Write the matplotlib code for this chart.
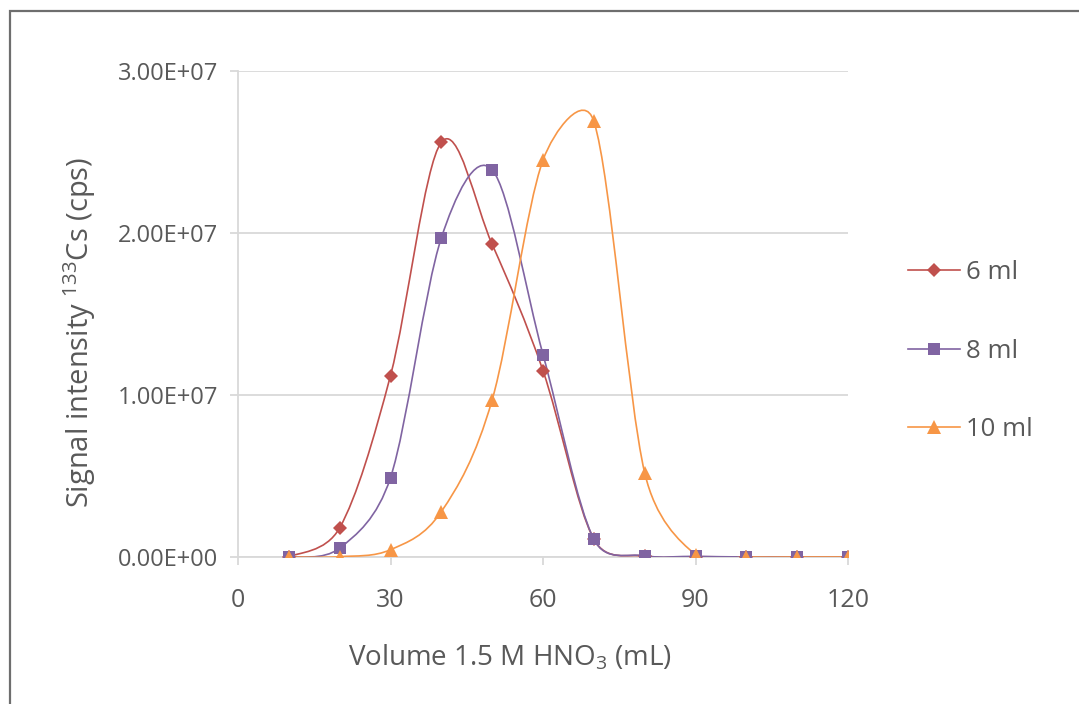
import numpy as np
import matplotlib
matplotlib.use('Agg')
import matplotlib.pyplot as plt
from matplotlib.path import Path
from matplotlib.patches import PathPatch, Rectangle
from matplotlib.lines import Line2D
from matplotlib.ticker import FuncFormatter

plt.rcParams['font.family'] = ['Open Sans', 'DejaVu Sans']
plt.rcParams['mathtext.fontset'] = 'custom'
plt.rcParams['mathtext.rm'] = 'Open Sans'
plt.rcParams['mathtext.default'] = 'regular'

# data
volume = [10, 20, 30, 40, 50, 60, 70, 80, 90, 100, 110, 120]
cs_6ml = [0.0, 1.8e6, 1.12e7, 2.56e7, 1.93e7, 1.15e7, 1.1e6, 0.05e6, 0.02e6, 0.0, 0.0, 0.0]
cs_8ml = [0.0, 0.55e6, 4.9e6, 1.97e7, 2.39e7, 1.25e7, 1.1e6, 0.08e6, 0.04e6, 0.0, 0.0, 0.0]
cs_10ml = [0.0, 0.02e6, 0.45e6, 2.8e6, 9.7e6, 2.45e7, 2.69e7, 5.2e6, 0.15e6, 0.0, 0.0, 0.0]

series = [('6 ml', cs_6ml, '#C0504D', 'D', 7.5),
          ('8 ml', cs_8ml, '#8064A2', 's', 8.5),
          ('10 ml', cs_10ml, '#F79646', '^', 9.5)]

TXT = '#595959'
GRID = '#D9D9D9'


def smooth_path(ax, x, y):
    # excel style smoothed line, worked out in pixel space then mapped back
    pts = ax.transData.transform(np.column_stack([x, y]))
    p = np.vstack([pts[:1], pts, pts[-1:]])
    verts = [pts[0]]
    codes = [Path.MOVETO]
    for i in range(1, len(p) - 2):
        p0, p1, p2, p3 = p[i - 1], p[i], p[i + 1], p[i + 2]
        d12 = np.hypot(*(p2 - p1))
        d02 = np.hypot(*(p2 - p0))
        d13 = np.hypot(*(p3 - p1))
        if d02 / 6 < d12 / 2 or d02 == 0:
            b1 = p1 + (p2 - p0) / 6
        else:
            b1 = p1 + (p2 - p0) * (d12 / 2) / d02
        if d13 / 6 < d12 / 2 or d13 == 0:
            b2 = p2 - (p3 - p1) / 6
        else:
            b2 = p2 - (p3 - p1) * (d12 / 2) / d13
        verts += [b1, b2, p2]
        codes += [Path.CURVE4] * 3
    verts = ax.transData.inverted().transform(np.array(verts))
    return Path(verts, codes)


fig = plt.figure(figsize=(10.79, 7.04), dpi=100)
fig.patches.append(Rectangle((10 / 1079, -0.05), 1.2, 1 - 11 / 704 + 0.05,
                             transform=fig.transFigure, fill=False,
                             edgecolor='#6E6E6E', linewidth=1.6))

ax = fig.add_axes([238 / 1079, 1 - 557 / 704, 610 / 1079, 486 / 704])
ax.set_xlim(0, 120)
ax.set_ylim(0, 3e7)

for name, vals, col, mk, ms in series:
    ax.add_patch(PathPatch(smooth_path(ax, volume, vals), facecolor='none',
                           edgecolor=col, linewidth=1.2, zorder=3))
    ax.plot(volume, vals, linestyle='none', marker=mk, markersize=ms,
            color=col, markeredgewidth=0, zorder=4)

ax.set_xticks([0, 30, 60, 90, 120])
ax.set_yticks([0, 1e7, 2e7, 3e7])
ax.yaxis.set_major_formatter(FuncFormatter(lambda v, p: f'{v:.2E}'))

ax.grid(axis='y', color=GRID, linewidth=1.3)
ax.set_axisbelow(True)
for s in ['top', 'right']:
    ax.spines[s].set_visible(False)
for s in ['left', 'bottom']:
    ax.spines[s].set_color(GRID)
    ax.spines[s].set_linewidth(1.3)
ax.tick_params(axis='both', colors=GRID, labelcolor=TXT, length=6, width=1.3)
ax.tick_params(axis='x', pad=16, labelsize=18)
ax.tick_params(axis='y', pad=8, labelsize=17)

fig.text(510 / 1079, 1 - 665 / 704, 'Volume 1.5 M HNO$_3$ (mL)', fontsize=20,
         color=TXT, ha='center', va='baseline')
fig.text(80 / 1079, 1 - 332 / 704, 'Signal intensity $^{133}$Cs (cps)', fontsize=21,
         color=TXT, ha='center', va='center', rotation=90)

handles = [Line2D([], [], color=c, marker=m, markersize=ms, linewidth=1.2,
                  markeredgewidth=0) for _, _, c, m, ms in series]
leg = fig.legend(handles, [s[0] for s in series], loc='center left',
                 bbox_to_anchor=(885 / 1079, 1 - 351 / 704), frameon=False,
                 fontsize=18.5, labelspacing=2.1, handlelength=2.0,
                 handletextpad=0.27, labelcolor=TXT)

fig.savefig('out.png', dpi=100)
